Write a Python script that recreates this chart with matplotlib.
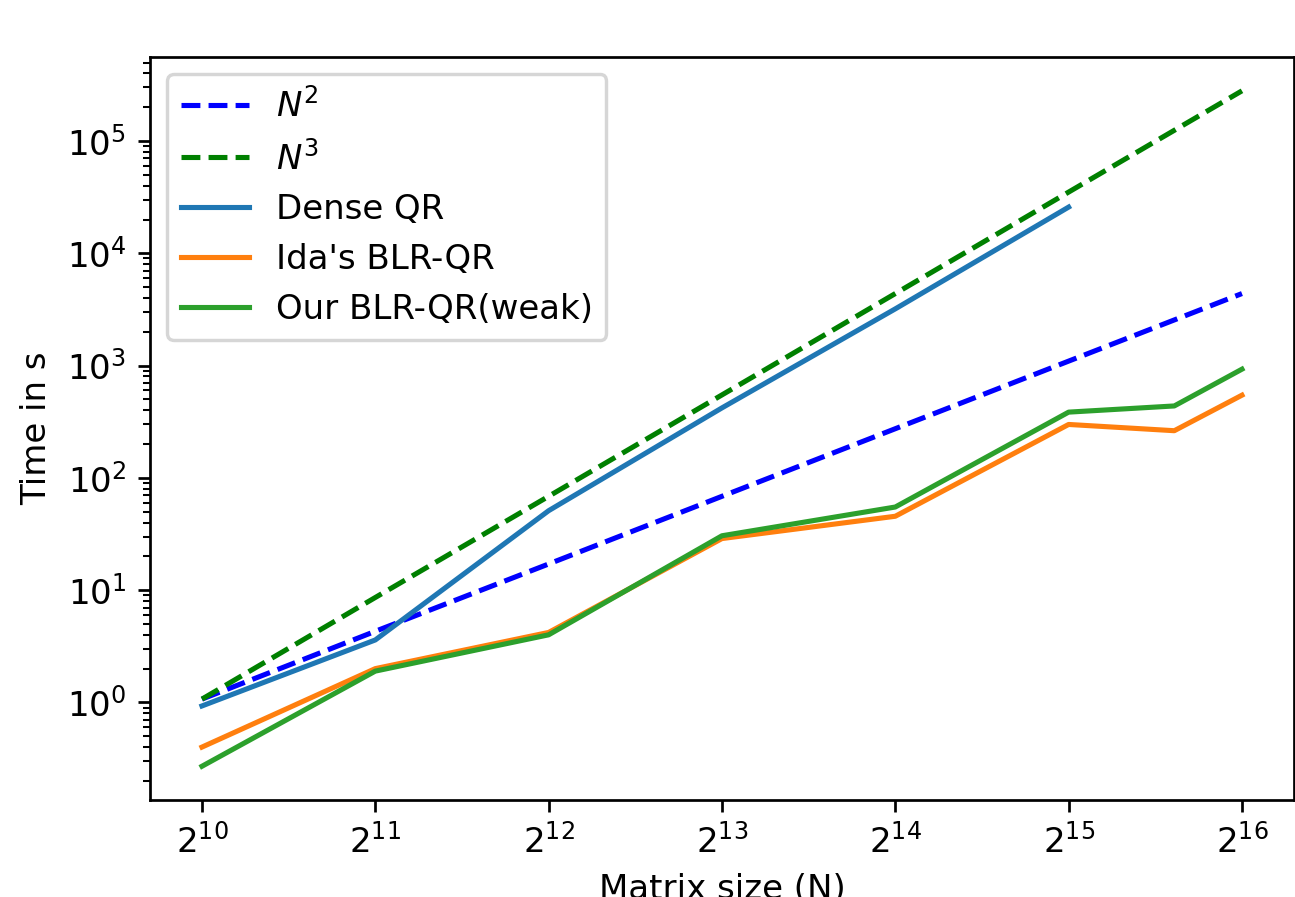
import matplotlib
matplotlib.use('Agg')
import matplotlib.pyplot as plt

# matrix sizes
sizes = [1024, 2048, 4096, 8192, 16384, 32768, 50000, 65536]
dense_sizes = [1024, 2048, 4096, 8192, 16384, 32768]

# reference slopes
n2_ref = [1.07, 4.3, 17.1, 68.5, 274, 1096, 2550, 4380]
n3_ref = [1.07, 8.6, 68.5, 548, 4380, 35100, 124600, 280000]

# measured times (s)
dense_qr = [0.93, 3.6, 51, 420, 3200, 25800]
ida_blr = [0.40, 2.0, 4.2, 28.8, 45.5, 299, 263, 545]
our_blr = [0.27, 1.9, 4.0, 30.5, 55, 385, 437, 929]

dpi = 245
fig = plt.figure(figsize = (1295.0 / dpi, 897.0 / dpi), dpi = dpi)
ax = fig.add_axes([0.1158, 0.1081, 0.8834, 0.8283])

ax.plot(sizes, n2_ref, '--', color = 'blue', label = '$N^2$')
ax.plot(sizes, n3_ref, '--', color = 'green', label = '$N^3$')
ax.plot(dense_sizes, dense_qr, label = 'Dense QR')
ax.plot(sizes, ida_blr, label = "Ida's BLR-QR")
ax.plot(sizes, our_blr, label = 'Our BLR-QR(weak)')

ax.set_xscale('log', base = 2)
ax.set_yscale('log')
ax.set_xlabel('Matrix size (N)')
ax.set_ylabel('Time in s')
ax.legend(loc = 'upper left')

fig.savefig('out.png', dpi = dpi)
plt.close()
